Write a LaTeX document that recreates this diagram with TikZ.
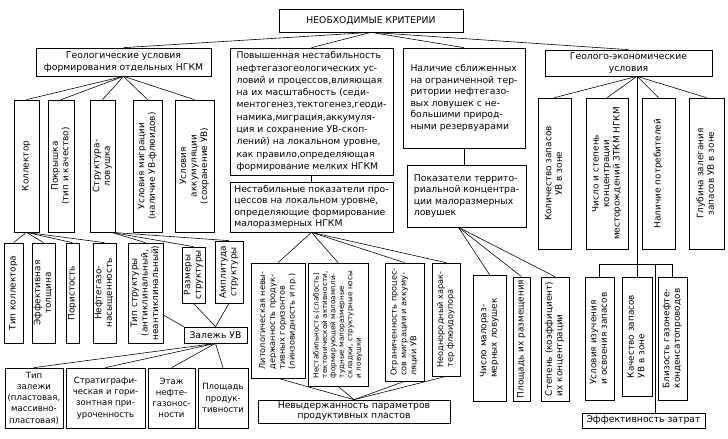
\documentclass[tikz,border=0pt]{standalone}
\usepackage{fontspec}
\setmainfont{DejaVu Sans}
\usepackage{graphicx}
\usepackage{tikz}
\usetikzlibrary{calc}

\newcommand{\crit}{\fontsize{7.9}{9.8}\selectfont}
\newcommand{\critv}{\fontsize{7.6}{8.9}\selectfont}
\newcommand{\critm}{\fontsize{7}{8.4}\selectfont}
\newcommand{\critt}{\fontsize{6.2}{7.2}\selectfont}
\newcommand{\critb}{\fontsize{7.3}{9.6}\selectfont}
\newcommand{\vt}[2][c]{\rotatebox{90}{\begin{tabular}{@{}#1@{}}#2\end{tabular}}}

\tikzset{
	box/.style={draw, line width=0.6pt, inner sep=0.5pt, font=\crit},
	vbox/.style={box, font=\critv},
	sz/.style 2 args={minimum width=#1*0.03cm, minimum height=#2*0.03cm},
	link/.style={line width=0.5pt}
}

\begin{document}
\begin{tikzpicture}[x=0.03cm, y=-0.03cm]
	\useasboundingbox (0,0) rectangle (728,438);
	% top level
	\node [box, sz={184}{23}] (top) at (371,20.5) {НЕОБХОДИМЫЕ КРИТЕРИИ};
	\node [box, sz={175}{28}, align=center] (geo) at (123.5,62) {Геологические условия\\формирования отдельных НГКМ};
	\node [box, sz={163}{127}, align=left, font=\fontsize{7.9}{10.5}\selectfont] (pov) at (311.5,111.5) {Повышенная нестабильность\\нефтегазогеологических ус-\\ловий и процессов,влияющая\\на их масштабность (седи-\\ментогенез,тектогенез,геоди-\\намика,миграция,аккумуля-\\ция и сохранение УВ-скоп-\\лений) на локальном уровне,\\как правило,определяющая\\формирование мелких НГКМ};
	\node [box, sz={122}{100}, align=left] (nal) at (464,98) {Наличие сближенных\\на ограниченной тер-\\ритории нефтегазо-\\вых ловушек с не-\\большими природ-\\ными резервуарами};
	\node [box, sz={167}{26}, align=center] (geoek) at (628.5,63) {Геолого-экономические\\условия};
	\node [box, sz={163}{50}, align=left] (nes) at (311.5,207) {Нестабильные показатели про-\\цессов на локальном уровне,\\определяющие формирование\\малоразмерных НГКМ};
	\node [box, sz={119}{62}, align=left] (pok) at (466.5,196) {Показатели террито-\\риальной концентра-\\ции малоразмерных\\ловушек};
	% geological conditions
	\node [vbox, sz={25}{132}] (kol) at (26.5,166) {\vt{Коллектор}};
	\node [vbox, sz={26}{132}] (pokr) at (61,166) {\vt{Покрышка\\(тип и качество)}};
	\node [vbox, sz={25}{132}] (str) at (102.5,166) {\vt{Структура-\\ловушка}};
	\node [vbox, sz={29}{132}] (mig) at (147.5,166) {\vt{Условия миграции\\(наличие УВ-флюидов)}};
	\node [vbox, sz={39}{132}] (akk) at (194.5,166) {\vt{Условия\\аккумуляции\\(сохранение УВ)}};
	\node [vbox, sz={19}{100}] (tkol) at (13.5,293) {\vt{Тип коллектора}};
	\node [vbox, sz={23}{100}] (eff) at (43.5,293) {\vt{Эффективная\\толщина}};
	\node [vbox, sz={13}{100}] (por) at (72.5,293) {\vt{Пористость}};
	\node [vbox, sz={23}{100}] (nas) at (104.5,293) {\vt{Нефтегазо-\\насыщенность}};
	\node [vbox, sz={35}{100}] (tstr) at (145.5,293) {\vt{Тип структуры\\(антиклинальный,\\неантиклинальный)}};
	\node [vbox, sz={23}{56}] (raz) at (193.5,275) {\vt{Размеры\\структуры}};
	\node [vbox, sz={28}{62}] (amp) at (229,272) {\vt{Амплитуда\\структуры}};
	\node [box, sz={63}{16}] (zal) at (215.5,335) {Залежь УВ};
	\node [box, sz={58}{60}, align=center, font=\critb] (tzal) at (34,398) {Тип\\залежи\\(пластовая,\\массивно-\\пластовая)};
	\node [box, sz={79}{60}, align=center, font=\critb] (strat) at (105.5,398) {Стратиграфи-\\ческая и гори-\\зонтная при-\\уроченность};
	\node [box, sz={47}{60}, align=center, font=\critb] (etazh) at (171.5,398) {Этаж\\нефте-\\газонос-\\ности};
	\node [box, sz={50}{60}, align=center, font=\critb] (plosh) at (223,398) {Площадь\\продук-\\тивности};
	% local level
	\node [box, sz={54}{115}, font=\critm] (lit) at (278,320.5) {\vt[l]{Литологическая невы-\\держанность продук-\\тивных горизонтов\\(линзовидность и пр.)}};
	\node [box, sz={60}{123}, font=\critt] (nstab) at (338,324.5) {\vt[l]{Нестабильность (слабость)\\тектонической активности,\\формирующей малоампли-\\тудные малоразмерные\\складки, структурные носы\\и ловушки}};
	\node [box, sz={39}{118}, font=\critm] (ogr) at (404.5,322) {\vt[l]{Ограниченность процес-\\сов миграции и аккуму-\\ляции УВ}};
	\node [box, sz={28}{113}, font=\critm] (neod) at (446,319.5) {\vt[l]{Неоднородный харак-\\тер флюидоупора}};
	\node [box, sz={192}{23}, align=center, font=\fontsize{7.9}{8.6}\selectfont] (nevyd) at (354,411.5) {Невыдержанность параметров\\продуктивных пластов};
	% territorial concentration
	\node [vbox, sz={33}{126}] (chislo) at (489.5,338) {\vt[l]{Число малораз-\\мерных ловушек}};
	\node [vbox, sz={17}{124}] (ploshr) at (521.5,339) {\vt[l]{Площадь их размещения}};
	\node [vbox, sz={28}{124}] (step) at (555,339) {\vt[l]{Степень (коэффициент)\\их концентрации}};
	% geo-economic conditions
	\node [vbox, sz={33}{151}] (kolz) at (554.5,173.5) {\vt{Количество запасов\\УВ в зоне}};
	\node [vbox, sz={42}{151}] (chst) at (607,173.5) {\vt{Число и степень\\концентрации\\месторождений ЗТКМ НГКМ}};
	\node [vbox, sz={33}{151}] (potr) at (658.5,173.5) {\vt{Наличие потребителей}};
	\node [vbox, sz={35}{151}] (glub) at (706.5,173.5) {\vt{Глубина залегания\\запасов УВ в зоне}};
	\node [vbox, sz={29}{123}] (usl) at (599.5,338.5) {\vt[l]{Условия изучения\\и освоения запасов}};
	\node [vbox, sz={30}{119}] (kach) at (637,336.5) {\vt[l]{Качество запасов\\УВ в зоне}};
	\node [vbox, sz={29}{123}] (bliz) at (672.5,338.5) {\vt[l]{Близость газонефте-\\конденсатопроводов}};
	\node [box, sz={123}{15}] (effz) at (643.5,420.5) {Эффективность затрат};
	% hubs
	\coordinate (strhub) at ($(str.south)+(9,0)$);
	\coordinate (tstrhub) at ($(tstr.east)+(0,22)$);
	\coordinate (pokhub) at ($(pok.south)+(-8,0)$);
	\coordinate (ekhub) at (geoek.south -| kach.north);
	\coordinate (bar) at ($(kach.north)+(0,-12)$);
	\coordinate (effhub) at ($(bar)+(18,0)$);
	% connectors
	\path [link] (top.south) edge (geo.north);
	\path [link] (top.south) edge (pov.north);
	\path [link] (top.south) edge (nal.north);
	\path [link] (top.south) edge (geoek.north);
	\path [link] (geo.south) edge (kol.north);
	\path [link] (geo.south) edge (pokr.north);
	\path [link] (geo.south) edge (str.north);
	\path [link] (geo.south) edge (mig.north);
	\path [link] (geo.south) edge (akk.north);
	\path [link] (kol.south) edge (tkol.north);
	\path [link] (kol.south) edge (eff.north);
	\path [link] (kol.south) edge (por.north);
	\path [link] (kol.south) edge (nas.north);
	\path [link] (strhub) edge (tstr.north);
	\path [link] (strhub) edge (raz.north);
	\path [link] (strhub) edge (amp.north);
	\path [link] (tstrhub) edge (zal.north west);
	\path [link] (raz.south) edge (zal.north);
	\path [link] (amp.south) edge (zal.north);
	\path [link] (zal.south) edge (tzal.north);
	\path [link] (zal.south) edge (strat.north);
	\path [link] (zal.south) edge (etazh.north);
	\path [link] (zal.south) edge (plosh.north);
	\path [link] (pov.south) edge (nes.north);
	\path [link] (nes.south) edge (lit.north);
	\path [link] (nes.south) edge (nstab.north);
	\path [link] (nes.south) edge (ogr.north);
	\path [link] (nes.south) edge (neod.north);
	\path [link] (lit.south) edge (nevyd.north);
	\path [link] (nstab.south) edge (nevyd.north);
	\path [link] (ogr.south) edge (nevyd.north);
	\path [link] (neod.south) edge (nevyd.north);
	\path [link] (nal.south) edge (nal.south |- pok.north);
	\path [link] (pokhub) edge (chislo.north);
	\path [link] (pokhub) edge (ploshr.north);
	\path [link] (pokhub) edge (step.north);
	\path [link] (ekhub) edge (kolz.north);
	\path [link] (ekhub) edge (chst.north);
	\path [link] (ekhub) edge (potr.north);
	\path [link] (ekhub) edge (glub.north);
	\path [link] (ekhub) edge (kach.north);
	\draw [link] (usl.north) |- (bar) -| (bliz.north);
	\path [link] (effhub) edge (effhub |- effz.north);
\end{tikzpicture}
\end{document}
